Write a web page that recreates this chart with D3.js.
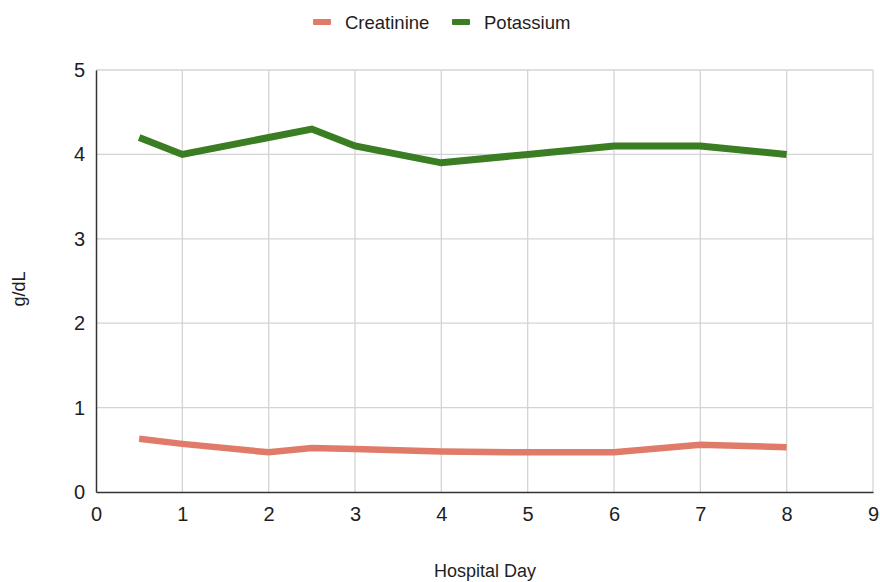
<!DOCTYPE html>
<html>
<head>
<meta charset="utf-8">
<script src="https://cdn.jsdelivr.net/npm/d3@7"></script>
<style>
  body { margin: 0; background: #fff; }
  svg { display: block; font-family: "Liberation Sans", Arial, sans-serif; }
</style>
</head>
<body>
<svg id="chart" width="880" height="582"></svg>
<script>
// Lab values by hospital day
const days = [0.5, 1, 2, 2.5, 3, 4, 5, 6, 7, 8];
const creatinine = [0.63, 0.57, 0.47, 0.52, 0.51, 0.48, 0.47, 0.47, 0.56, 0.53];
const potassium = [4.2, 4.0, 4.2, 4.3, 4.1, 3.9, 4.0, 4.1, 4.1, 4.0];
const xTicks = [0, 1, 2, 3, 4, 5, 6, 7, 8, 9];
const yTicks = [0, 1, 2, 3, 4, 5];
const seriesNames = ["Creatinine", "Potassium"];
const seriesColors = ["#e07b69", "#3b7d23"];

const FONT = "'Liberation Sans', Arial, sans-serif";
const svg = d3.select("#chart");
const margin = { left: 96, right: 7, top: 70, bottom: 90 };
const W = 880, H = 582;

const x = d3.scaleLinear().domain([0, 9]).range([margin.left, W - margin.right]);
const y = d3.scaleLinear().domain([0, 5]).range([H - margin.bottom, margin.top]);

// Gridlines
svg.append("g").selectAll("line.v").data(xTicks.slice(1)).join("line")
  .attr("x1", d => x(d)).attr("x2", d => x(d))
  .attr("y1", y(0)).attr("y2", y(5))
  .attr("stroke", "#d4d4d4").attr("stroke-width", 1.3);
svg.append("g").selectAll("line.h").data(yTicks.slice(1)).join("line")
  .attr("x1", x(0)).attr("x2", x(9))
  .attr("y1", d => y(d)).attr("y2", d => y(d))
  .attr("stroke", "#d4d4d4").attr("stroke-width", 1.3);

// Axes
const xAxis = svg.append("g").attr("transform", `translate(0,${y(0)})`)
  .call(d3.axisBottom(x).tickValues(xTicks).tickSize(0).tickPadding(15).tickFormat(d3.format("d")));
const yAxis = svg.append("g").attr("transform", `translate(${x(0)},0)`)
  .call(d3.axisLeft(y).tickValues(yTicks).tickSize(0).tickPadding(11).tickFormat(d3.format("d")));
[xAxis, yAxis].forEach(a => {
  a.select(".domain").attr("stroke", "#333").attr("stroke-width", 1.5);
  a.selectAll("text").attr("font-size", 20).attr("fill", "#1e1e1e").attr("font-family", FONT);
});

// Lines
const series = [creatinine, potassium];
series.forEach((vals, i) => {
  const line = d3.line().x((d, j) => x(days[j])).y(d => y(d));
  svg.append("path").datum(vals)
    .attr("d", line)
    .attr("fill", "none")
    .attr("stroke", seriesColors[i])
    .attr("stroke-width", i === 0 ? 6.5 : 7)
    .attr("stroke-linejoin", "miter");
});

// Axis titles
svg.append("text").attr("x", 485).attr("y", 577)
  .attr("text-anchor", "middle").attr("font-size", 18).attr("fill", "#1e1e1e")
  .attr("font-family", FONT).text("Hospital Day");
svg.append("text").attr("transform", "translate(25,289) rotate(-90)")
  .attr("text-anchor", "middle").attr("font-size", 18).attr("fill", "#1e1e1e")
  .attr("font-family", FONT).text("g/dL");

// Legend
const legendX = [313, 452];
seriesNames.forEach((name, i) => {
  svg.append("rect").attr("x", legendX[i]).attr("y", 19).attr("width", 18).attr("height", 6)
    .attr("rx", 1).attr("fill", seriesColors[i]);
  svg.append("text").attr("x", legendX[i] + 32).attr("y", 29)
    .attr("font-size", 18.5).attr("fill", "#1e1e1e").attr("font-family", FONT).text(name);
});
</script>
</body>
</html>
